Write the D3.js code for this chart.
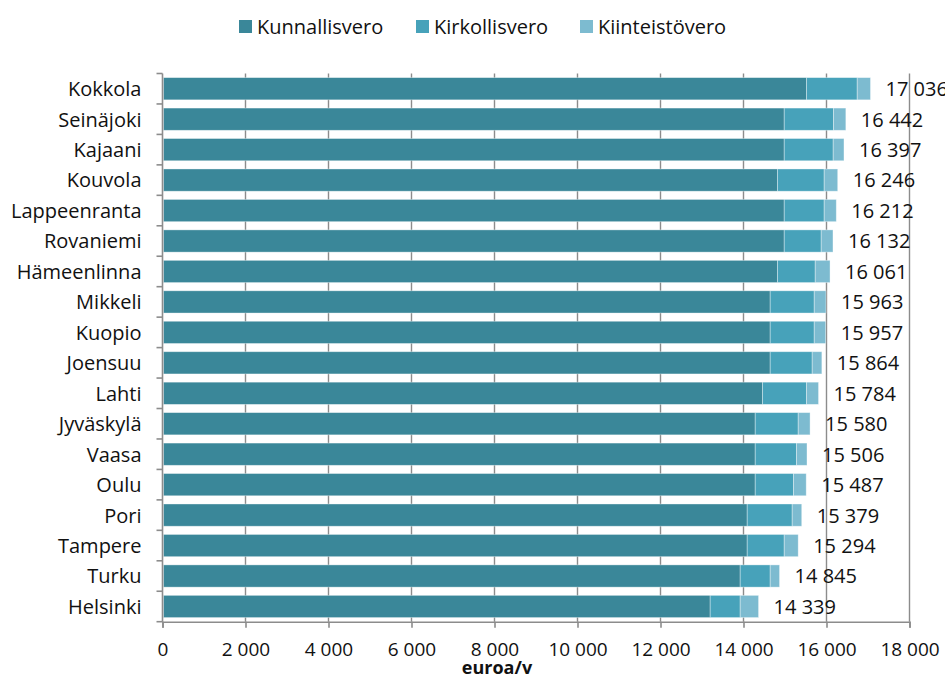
<!DOCTYPE html>
<html lang="fi">
<head>
<meta charset="utf-8">
<title>Verot kaupungeittain</title>
<script src="https://d3js.org/d3.v7.min.js"></script>
<style>
    body { margin: 0; background: #fff; }
    text { font-family: "Open Sans", "Noto Sans", sans-serif; fill: #111; }
</style>
</head>
<body>
<div id="chart"></div>
<script type="text/javascript">

    // Data
    var cities = ['Kokkola', 'Seinäjoki', 'Kajaani', 'Kouvola', 'Lappeenranta', 'Rovaniemi',
        'Hämeenlinna', 'Mikkeli', 'Kuopio', 'Joensuu', 'Lahti', 'Jyväskylä', 'Vaasa',
        'Oulu', 'Pori', 'Tampere', 'Turku', 'Helsinki'];
    var kunnallisvero = [15494, 14957, 14957, 14795, 14957, 14957, 14795, 14619, 14619,
        14619, 14434, 14258, 14258, 14258, 14065, 14065, 13896, 13173];
    var kirkollisvero = [1222, 1188, 1180, 1125, 963, 891, 909, 1061, 1061,
        1012, 1060, 1036, 995, 923, 1084, 892, 723, 723];
    var kiinteistovero = [320, 297, 260, 326, 292, 284, 357, 283, 277,
        233, 290, 286, 253, 306, 230, 337, 226, 443];
    var totals = [17036, 16442, 16397, 16246, 16212, 16132, 16061, 15963, 15957,
        15864, 15784, 15580, 15506, 15487, 15379, 15294, 14845, 14339];
    var seriesNames = ['Kunnallisvero', 'Kirkollisvero', 'Kiinteistövero'];
    var seriesColors = ['#3a8799', '#47a2ba', '#7dbbd0'];
    var xTicks = [0, 2000, 4000, 6000, 8000, 10000, 12000, 14000, 16000, 18000];

    var width = 945, height = 677;
    var margin = { top: 73.5, left: 162.5, right: 35.5, bottom: 55.3 };
    var fmt = function (v) { return d3.format(',')(v).replace(/,/g, ' '); };

    var rows = cities.map(function (c, i) {
        return { city: c, Kunnallisvero: kunnallisvero[i], Kirkollisvero: kirkollisvero[i],
            'Kiinteistövero': kiinteistovero[i], total: totals[i] };
    });

    var svg = d3.select('#chart').append('svg')
        .attr('width', width)
        .attr('height', height);

    var x = d3.scaleLinear().domain([0, 18000]).range([margin.left, width - margin.right]);
    var y = d3.scaleBand().domain(cities).range([margin.top, height - margin.bottom]).paddingInner(0.27).paddingOuter(0.135);
    var yLines = d3.scaleBand().domain(cities).range([margin.top, height - margin.bottom]);

    // Gridlines
    svg.append('g').selectAll('line')
        .data(xTicks.slice(1))
        .enter().append('line')
        .attr('x1', function (d) { return x(d); })
        .attr('x2', function (d) { return x(d); })
        .attr('y1', margin.top)
        .attr('y2', height - margin.bottom)
        .attr('stroke', '#8c8c8c')
        .attr('stroke-width', 1.4);

    // Stacked bars
    var stack = d3.stack().keys(seriesNames)(rows);
    svg.append('g').selectAll('g')
        .data(stack)
        .enter().append('g')
        .attr('fill', function (d, i) { return seriesColors[i]; })
        .selectAll('rect')
        .data(function (d) { return d; })
        .enter().append('rect')
        .attr('x', function (d) { return x(d[0]) + 1; })
        .attr('width', function (d) { return x(d[1]) - x(d[0]); })
        .attr('y', function (d) { return y(d.data.city); })
        .attr('height', y.bandwidth())
        .attr('stroke', 'rgba(255,255,255,0.45)')
        .attr('stroke-width', 0.8);

    // Value labels
    svg.append('g').selectAll('text')
        .data(rows)
        .enter().append('text')
        .attr('x', function (d) { return x(d.total) + 16; })
        .attr('y', function (d) { return y(d.city) + y.bandwidth() / 2; })
        .attr('dy', '0.37em')
        .attr('font-size', '20px')
        .text(function (d) { return fmt(d.total); });

    // Y axis
    var yAxis = svg.append('g')
        .attr('transform', 'translate(' + margin.left + ',0)');
    yAxis.append('line')
        .attr('x1', 0).attr('x2', 0)
        .attr('y1', margin.top).attr('y2', height - margin.bottom)
        .attr('stroke', '#8c8c8c').attr('stroke-width', 1.6);
    yAxis.selectAll('.tick')
        .data(cities.concat(['end']))
        .enter().append('line')
        .attr('x1', -6).attr('x2', 0)
        .attr('y1', function (d, i) { return i < cities.length ? yLines(d) : height - margin.bottom; })
        .attr('y2', function (d, i) { return i < cities.length ? yLines(d) : height - margin.bottom; })
        .attr('stroke', '#8c8c8c').attr('stroke-width', 1.6);
    yAxis.selectAll('text')
        .data(cities)
        .enter().append('text')
        .attr('x', -21)
        .attr('y', function (d) { return y(d) + y.bandwidth() / 2; })
        .attr('dy', '0.37em')
        .attr('text-anchor', 'end')
        .attr('font-size', '20px')
        .text(function (d) { return d; });

    // X axis
    var xAxis = svg.append('g')
        .attr('transform', 'translate(0,' + (height - margin.bottom) + ')')
        .call(d3.axisBottom(x).tickValues(xTicks).tickSize(6).tickPadding(15).tickFormat(fmt));
    xAxis.select('.domain').attr('stroke', '#8c8c8c').attr('stroke-width', 1.6);
    xAxis.selectAll('.tick line').attr('stroke', '#8c8c8c').attr('stroke-width', 1.6);
    xAxis.selectAll('.tick text')
        .attr('font-family', '"Open Sans", "Noto Sans", sans-serif')
        .attr('font-size', '19px')
        .attr('fill', '#111');

    svg.append('text')
        .attr('x', 497)
        .attr('y', 674)
        .attr('text-anchor', 'middle')
        .attr('font-size', '18px')
        .attr('font-weight', 'bold')
        .text('euroa/v');

    // Legend
    var legendX = [239, 416, 580];
    var legend = svg.append('g').selectAll('g')
        .data(seriesNames)
        .enter().append('g')
        .attr('transform', function (d, i) { return 'translate(' + legendX[i] + ',20)'; });
    legend.append('rect')
        .attr('width', 13).attr('height', 13)
        .attr('fill', function (d, i) { return seriesColors[i]; });
    legend.append('text')
        .attr('x', 18)
        .attr('y', 6.5)
        .attr('dy', '0.37em')
        .attr('font-size', '20px')
        .text(function (d) { return d; });
</script>
</body>
</html>
